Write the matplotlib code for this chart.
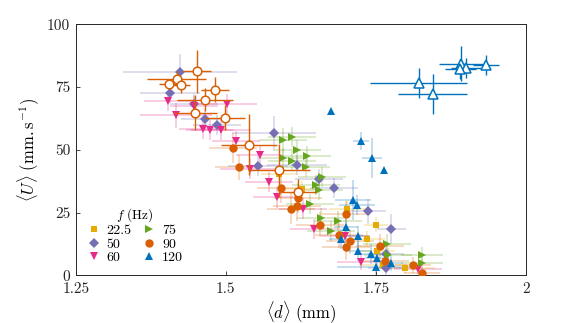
import matplotlib
matplotlib.use("Agg")
import matplotlib.pyplot as plt
from matplotlib.lines import Line2D

plt.rcParams['font.family'] = 'serif'
plt.rcParams['font.serif'] = ['cmr10', 'DejaVu Serif']
plt.rcParams['mathtext.fontset'] = 'cm'
plt.rcParams['axes.formatter.use_mathtext'] = True

# ---------------- data ----------------
freqs = ['22.5', '50', '60', '75', '90', '120']

# 22.5 Hz (filled squares)
d_22 = [1.589, 1.627, 1.703, 1.751, 1.735, 1.752, 1.799, 1.762]
u_22 = [40.5, 34.5, 26.6, 20.1, 14.6, 9.6, 3.0, 4.0]
dx_22 = [0.03, 0.03, 0.03, 0.02, 0.03, 0.03, 0.05, 0.04]
du_22 = [3, 3, 3, 3, 3, 3, 2, 2]

# 50 Hz (filled diamonds)
d_50 = [1.424, 1.407, 1.447, 1.466, 1.486, 1.581, 1.554, 1.619, 1.656, 1.681, 1.738, 1.776, 1.768, 1.767]
u_50 = [81.0, 72.7, 68.4, 62.2, 60.0, 56.8, 43.5, 44.1, 38.2, 34.8, 25.5, 18.3, 8.5, 2.8]
dx_50 = [0.095, 0.05, 0.04, 0.04, 0.04, 0.07, 0.05, 0.05, 0.04, 0.04, 0.03, 0.024, 0.03, 0.03]
du_50 = [7, 4, 4, 4, 4, 6.6, 4, 4, 4, 4, 5, 6, 4, 4]

# 60 Hz (filled down triangles)
d_60 = [1.403, 1.502, 1.447, 1.417, 1.462, 1.474, 1.492, 1.518, 1.558, 1.541, 1.573, 1.586,
        1.629, 1.648, 1.699, 1.726, 1.821]
u_60 = [69.3, 68.1, 67.5, 63.7, 58.4, 57.8, 57.8, 53.4, 47.8, 42.5, 37.1, 31.0,
        26.6, 18.6, 15.7, 5.3, 2.6]
dx_60 = [0.04, 0.05, 0.04, 0.06, 0.04, 0.04, 0.05, 0.04, 0.04, 0.05, 0.04, 0.04,
         0.04, 0.04, 0.04, 0.04, 0.04]
du_60 = [4, 4, 4, 5, 4, 4, 4, 4, 4, 4, 4, 4, 4, 4, 4, 3, 2]

# 75 Hz (filled right triangles)
d_75 = [1.596, 1.610, 1.619, 1.596, 1.610, 1.635, 1.634, 1.660, 1.651, 1.656, 1.640,
        1.659, 1.688, 1.676, 1.769, 1.827, 1.827, 1.771]
u_75 = [53.8, 55.1, 50.1, 46.7, 45.5, 47.4, 43.1, 39.2, 36.1, 33.9, 28.5,
        23.0, 21.5, 17.6, 12.6, 8.2, 4.7, 8.0]
dx_75 = [0.04, 0.04, 0.04, 0.04, 0.04, 0.04, 0.04, 0.04, 0.04, 0.04, 0.04,
         0.04, 0.04, 0.04, 0.04, 0.035, 0.035, 0.04]
du_75 = [5, 4, 4, 4, 4, 4, 4, 4, 4, 4, 4, 4, 4, 4, 4, 3, 3, 3]

# 90 Hz (filled circles)
d_90 = [1.513, 1.523, 1.592, 1.621, 1.609, 1.619, 1.701, 1.657, 1.689, 1.707, 1.700,
        1.757, 1.765, 1.812, 1.828]
u_90 = [50.7, 43.1, 34.8, 30.7, 26.6, 27.5, 24.6, 20.2, 15.9, 13.5, 11.2,
        11.6, 5.8, 4.1, 1.1]
dx_90 = [0.04, 0.04, 0.04, 0.04, 0.04, 0.04, 0.04, 0.04, 0.04, 0.04, 0.04,
         0.04, 0.04, 0.03, 0.03]
du_90 = [6, 5, 6, 6, 6, 6, 5, 5, 5, 5, 5, 5, 4, 3, 2]

# 120 Hz (filled up triangles)
d_120 = [1.675, 1.726, 1.744, 1.764, 1.713, 1.719, 1.701, 1.720, 1.693, 1.721, 1.743,
         1.752, 1.750, 1.775]
u_120 = [65.3, 53.5, 46.7, 41.8, 29.9, 27.9, 19.2, 15.5, 14.6, 9.6, 8.6,
         6.9, 3.5, 4.8]
dx_120 = [0.0, 0.013, 0.017, 0.0, 0.03, 0.03, 0.02, 0.02, 0.02, 0.02, 0.02,
          0.02, 0.064, 0.02]
du_120 = [0, 3.5, 8, 0, 8, 4, 4, 4, 4, 4, 4, 4, 4, 3]

# open circles (90 Hz, second data set)
d_90o = [1.452, 1.418, 1.405, 1.425, 1.482, 1.466, 1.449, 1.499, 1.539, 1.589, 1.621]
u_90o = [81.3, 78.4, 76.4, 75.7, 74.0, 70.0, 64.7, 62.7, 52.1, 41.8, 33.2]
dx_90o = [0.024, 0.05, 0.017, 0.015, 0.024, 0.047, 0.036, 0.033, 0.046, 0.051, 0.03]
du_90o = [8.5, 3, 2, 3, 5, 4.6, 7, 5, 12, 10.6, 5]

# open triangles (120 Hz, second data set)
d_120o = [1.893, 1.901, 1.891, 1.934, 1.822, 1.845]
u_120o = [84.3, 82.7, 82.3, 83.9, 76.6, 72.1]
dx_120o = [0.037, 0.026, 0.026, 0.021, 0.081, 0.058]
du_120o = [7, 4, 4, 4, 6, 8]

colors = ['#E6AB02', '#7570B3', '#E7298A', '#66A61E', '#D95F02', '#0072BD']
markers = ['s', 'D', 'v', '>', 'o', '^']
msizes = [4.6, 4.6, 6, 6, 6, 6]

filled = [(d_22, u_22, dx_22, du_22), (d_50, u_50, dx_50, du_50),
          (d_60, u_60, dx_60, du_60), (d_75, u_75, dx_75, du_75),
          (d_90, u_90, dx_90, du_90), (d_120, u_120, dx_120, du_120)]

fig = plt.figure(figsize=(5.81, 3.23), dpi=100)
ax = fig.add_axes([0.1303, 0.1477, 0.7745, 0.7771])

# faint error bars first
for (d, u, dx, du), c in zip(filled, colors):
    ax.errorbar(d, u, xerr=dx, yerr=du, fmt='none', ecolor=c, alpha=0.3,
                elinewidth=1.1, capsize=0, zorder=1)
# filled markers
handles = []
for (d, u, dx, du), c, m, ms, lab in zip(filled, colors, markers, msizes, freqs):
    ax.plot(d, u, linestyle='none', marker=m, color=c, markersize=ms,
            markeredgewidth=0, zorder=3)
    handles.append(Line2D([], [], linestyle='none', marker=m, color=c,
                          markersize=ms, markeredgewidth=0, label=lab))

# open symbols with solid error bars
ax.errorbar(d_90o, u_90o, xerr=dx_90o, yerr=du_90o, fmt='none', ecolor=colors[4],
            elinewidth=1.0, capsize=0, zorder=4)
ax.plot(d_90o, u_90o, linestyle='none', marker='o', markersize=6.2,
        markerfacecolor='white', markeredgecolor=colors[4], markeredgewidth=1.1, zorder=5)
ax.errorbar(d_120o, u_120o, xerr=dx_120o, yerr=du_120o, fmt='none', ecolor=colors[5],
            elinewidth=1.0, capsize=0, zorder=4)
ax.plot(d_120o, u_120o, linestyle='none', marker='^', markersize=7,
        markerfacecolor='white', markeredgecolor=colors[5], markeredgewidth=1.1, zorder=5)

ax.set_xlim(1.25, 2.0)
ax.set_ylim(0, 100)
ax.set_xticks([1.25, 1.5, 1.75, 2.0])
ax.set_xticklabels(['1.25', '1.5', '1.75', '2'])
ax.set_yticks([0, 25, 50, 75, 100])
ax.set_yticklabels(['0', '25', '50', '75', '100'])
ax.tick_params(direction='in', length=3, width=0.6, labelsize=11, colors='#262626')
ax.tick_params(axis='x', pad=5)
ax.tick_params(axis='y', pad=4)
for s in ax.spines.values():
    s.set_linewidth(0.7)
    s.set_color('#262626')

ax.set_xlabel(r'$\langle d\rangle\ (\mathrm{mm})$', fontsize=12, labelpad=2)
ax.set_ylabel(r'$\langle U\rangle\ (\mathrm{mm.s^{-1}})$', fontsize=12, labelpad=4)

leg = ax.legend(handles=handles, ncol=2, frameon=False, title=r'$f$ (Hz)',
                fontsize=10, title_fontsize=9.5, loc='lower left',
                bbox_to_anchor=(0.0, 0.0), handlelength=1.0, handletextpad=0.4,
                columnspacing=0.8, labelspacing=0.05, borderaxespad=0.4)

fig.savefig('out.png', dpi=100)
